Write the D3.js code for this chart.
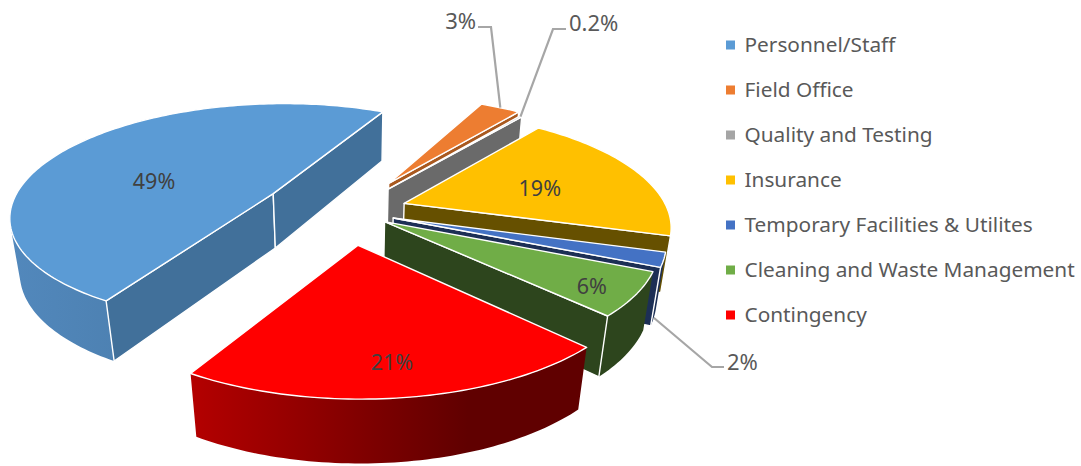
<!DOCTYPE html>
<html>
<head>
<meta charset="utf-8">
<script src="https://cdn.jsdelivr.net/npm/d3@7/dist/d3.min.js"></script>
<style>
  html, body { margin: 0; padding: 0; background: #fff; }
  svg { display: block; }
  text { font-family: "Noto Sans", "Open Sans", sans-serif; }
</style>
</head>
<body>
<svg id="chart" width="1081" height="466"></svg>
<script>
// Budget breakdown
const categories = ["Personnel/Staff", "Field Office", "Quality and Testing", "Insurance",
                    "Temporary Facilities & Utilites", "Cleaning and Waste Management", "Contingency"];
const shares = [49, 3, 0.2, 19, 2, 6, 21];
const shareLabels = ["49%", "3%", "0.2%", "19%", "2%", "6%", "21%"];

// Slice appearance
const topColors  = ["#5B9BD5", "#ED7D31", "#A5A5A5", "#FFC000", "#4472C4", "#70AD47", "#FF0000"];
const sideColors = ["#41709A", "#A9591F", "#6A6A6A", "#665000", "#1C2F55", "#2D451D", "#600000"];
const rimLights  = ["#5288BC", "#A9591F", "#6A6A6A", "#665000", "#1C2F55", "#2D451D", "#B40000"];
const legendColors = ["#5B9BD5", "#ED7D31", "#A5A5A5", "#FFC000", "#4472C4", "#70AD47", "#FF0000"];
const explosion  = [0.332, 0.304, 0.257, 0.226, 0.18, 0.165, 0.292];
const paintOrder = [0, 1, 2, 3, 4, 5, 6];

// Camera: a unit pie on the ground plane seen from above in perspective
const view = { cx: 348, cy: 211, a: 264, b: 112, depth: 57, p: 0.18, q: 0.03 };
const firstAngle = 210.6 * Math.PI / 180;

function project(x, y, z) {
  const w = 1 + view.p * y - view.q * z;
  return [view.cx + view.a * x / w, view.cy - (view.b * y + view.depth * z) / w];
}

const svg = d3.select("#chart");
const defs = svg.append("defs");
const line = d3.line();
const outline = { stroke: "#fff", width: 1.4 };

const arcs = d3.pie().sort(null).startAngle(firstAngle).endAngle(firstAngle + 2 * Math.PI)(shares);

const slices = arcs.map((d, i) => {
  const mid = (d.startAngle + d.endAngle) / 2;
  const ox = explosion[i] * Math.sin(mid);
  const oy = explosion[i] * Math.cos(mid);
  const steps = Math.max(2, Math.ceil((d.endAngle - d.startAngle) / 0.02));
  const ring = d3.range(steps + 1).map(k => {
    const t = d.startAngle + (d.endAngle - d.startAngle) * k / steps;
    return [ox + Math.sin(t), oy + Math.cos(t)];
  });
  return { i, d, mid, ox, oy, ring };
});

const face = (g, pts, fill) => g.append("path")
  .attr("d", line(pts) + "Z")
  .attr("fill", fill)
  .attr("stroke", outline.stroke)
  .attr("stroke-width", outline.width)
  .attr("stroke-linejoin", "round");

// Outer wall, then cut walls, then the top of each slice, painted from the back of the pie forwards.
// Walls turned away from the camera are skipped, using the winding of their projected outline.
paintOrder.forEach(i => {
  const s = slices[i];
  const g = svg.append("g").attr("class", "slice");
  const first = s.ring[0], last = s.ring[s.ring.length - 1];
  const wall = (a, b) => [project(a[0], a[1], 0), project(b[0], b[1], 0),
                          project(b[0], b[1], -1), project(a[0], a[1], -1)];
  const apex = [s.ox, s.oy];

  const upper = s.ring.map(p => project(p[0], p[1], 0));
  const lower = s.ring.map(p => project(p[0], p[1], -1));
  const xs = upper.concat(lower).map(p => p[0]);
  const gradId = "rim" + i;
  const grad = defs.append("linearGradient").attr("id", gradId)
    .attr("gradientUnits", "userSpaceOnUse")
    .attr("x1", d3.min(xs)).attr("x2", d3.max(xs)).attr("y1", 0).attr("y2", 0);
  grad.append("stop").attr("offset", 0).attr("stop-color", rimLights[i]);
  grad.append("stop").attr("offset", i === 6 ? 0.7 : 1).attr("stop-color", sideColors[i]);

  const rimPath = d3.range(s.ring.length - 1)
    .map(k => wall(s.ring[k], s.ring[k + 1]))
    .filter(q => d3.polygonArea(q) > 0)
    .map(q => line(q) + "Z")
    .join("");
  g.append("path").attr("class", "rim").attr("d", rimPath).attr("fill", `url(#${gradId})`);

  const startWall = wall(apex, first), endWall = wall(apex, last);
  if (d3.polygonArea(startWall) > 0) face(g, startWall, sideColors[i]);
  if (d3.polygonArea(endWall) < 0) face(g, endWall, sideColors[i]);
  face(g, [project(apex[0], apex[1], 0)].concat(upper), topColors[i]);
});

// Labels placed inside their slices, along each slice's bisector
const insideLabels = [
  { i: 0, r: 0.57, dy: 14 },
  { i: 3, r: 0.57, dy: 3 },
  { i: 5, r: 0.84, dy: 4 },
  { i: 6, r: 0.79, dy: 1 }
];
insideLabels.forEach(({ i, r, dy }) => {
  const s = slices[i];
  const p = project(s.ox + r * Math.sin(s.mid), s.oy + r * Math.cos(s.mid), 0);
  svg.append("text").attr("x", p[0]).attr("y", p[1] + dy)
    .attr("text-anchor", "middle").attr("dominant-baseline", "central")
    .attr("font-size", 21.5).attr("fill", "#404040").text(shareLabels[i]);
});

// Small slices carry their labels on leader lines
const leaderLabels = [
  { i: 1, z: 0, elbow: [491, 27], end: [478, 27], tx: 476, ty: 20, anchor: "end" },
  { i: 2, z: 0, elbow: [553, 29], end: [566, 29], tx: 569, ty: 22, anchor: "start" },
  { i: 4, z: -1, elbow: [712, 367], end: [724, 367], tx: 727, ty: 361, anchor: "start" }
];
leaderLabels.forEach(({ i, z, elbow, end, tx, ty, anchor }) => {
  const s = slices[i];
  const a = project(s.ox + Math.sin(s.mid), s.oy + Math.cos(s.mid), z);
  svg.append("path").attr("d", line([a, elbow, end]))
    .attr("fill", "none").attr("stroke", "#A6A6A6").attr("stroke-width", 2.2);
  svg.append("text").attr("x", tx).attr("y", ty)
    .attr("text-anchor", anchor).attr("dominant-baseline", "central")
    .attr("font-size", 22).attr("fill", "#595959").text(shareLabels[i]);
});

// Legend
const rowY = d3.scalePoint().domain(categories).range([45, 315]);
const legend = svg.append("g").attr("class", "legend");
categories.forEach((name, i) => {
  legend.append("rect").attr("x", 726).attr("y", rowY(name) - 4.5)
    .attr("width", 9).attr("height", 9).attr("fill", legendColors[i]);
  legend.append("text").attr("x", 744.5).attr("y", rowY(name) - 1)
    .attr("dominant-baseline", "central")
    .attr("font-size", 20.8).attr("fill", "#595959").text(name);
});
</script>
</body>
</html>
